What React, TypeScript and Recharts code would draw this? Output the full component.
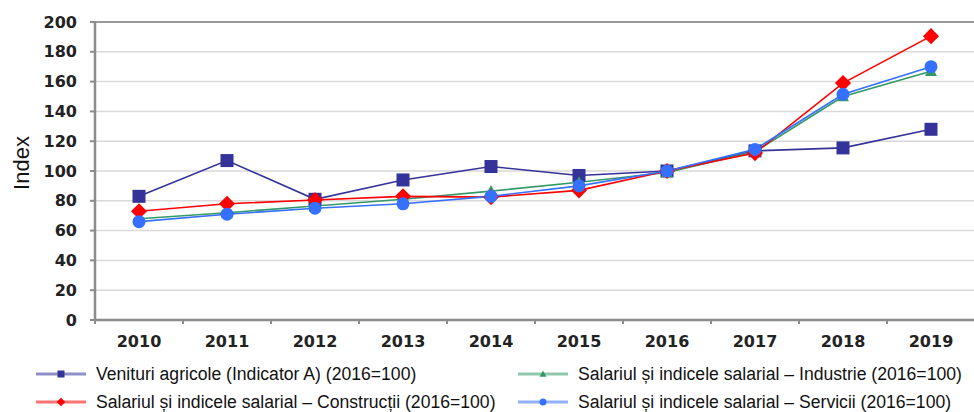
import React from 'react'
import { LineChart, Line, XAxis, YAxis, CartesianGrid, ReferenceLine } from 'recharts'

const years = ['2010', '2011', '2012', '2013', '2014', '2015', '2016', '2017', '2018', '2019']
const venituri = [83, 107, 81, 94, 103, 97, 100, 113.5, 115.5, 128]
const industrie = [68, 72, 76.5, 81, 86.5, 92.5, 99, 113, 150, 167]
const constructii = [73, 78, 80.5, 83, 82.5, 87, 100, 112, 159, 190.5]
const servicii = [66, 71, 75, 78, 83, 90, 100, 114.5, 151.5, 170]
const yTicks = [0, 20, 40, 60, 80, 100, 120, 140, 160, 180, 200]

const labels = {
  venituri: 'Venituri agricole (Indicator A) (2016=100)',
  industrie: 'Salariul și indicele salarial – Industrie (2016=100)',
  constructii: 'Salariul și indicele salarial – Construcții (2016=100)',
  servicii: 'Salariul și indicele salarial – Servicii (2016=100)',
}

const COLORS = {
  venituri: '#333399',
  industrie: '#339966',
  constructii: '#ff0000',
  servicii: '#3670ff',
}

const data = years.map((year, i) => ({
  year,
  venituri: venituri[i],
  industrie: industrie[i],
  constructii: constructii[i],
  servicii: servicii[i],
}))

// plot box
const PLOT_LEFT = 95
const PLOT_TOP = 22
const PLOT_BOTTOM = 320
const CHART_W = 980
const CHART_H = 412
const BAND = (CHART_W - 5 - PLOT_LEFT) / years.length

const TICK_FONT = 'DejaVu Sans, Verdana, sans-serif'
const LEGEND_FONT = 'Liberation Sans, Arial, sans-serif'

type Shape = 'square' | 'triangle' | 'diamond' | 'circle'

function marker(shape: Shape, cx: number, cy: number, s: number, fill: string, key?: string) {
  if (shape === 'square') {
    return <rect key={key} x={cx - s / 2} y={cy - s / 2} width={s} height={s} fill={fill} />
  }
  if (shape === 'diamond') {
    const r = s * 0.62
    return <polygon key={key} points={`${cx},${cy - r} ${cx + r},${cy} ${cx},${cy + r} ${cx - r},${cy}`} fill={fill} />
  }
  if (shape === 'triangle') {
    const r = s / 2
    return <polygon key={key} points={`${cx},${cy - r} ${cx + r},${cy + r * 0.8} ${cx - r},${cy + r * 0.8}`} fill={fill} />
  }
  return <circle key={key} cx={cx} cy={cy} r={s / 2} fill={fill} />
}

const makeDot = (shape: Shape, fill: string, size: number) => (props: any) => {
  const { cx, cy, index } = props
  if (cx == null || cy == null) return <g key={`d-${index}`} />
  return marker(shape, cx, cy, size, fill, `${shape}-${index}`)
}

const XTick = (props: any) => {
  const { x, payload } = props
  return (
    <g>
      <line x1={x - BAND / 2} x2={x - BAND / 2} y1={PLOT_BOTTOM} y2={PLOT_BOTTOM + 4} stroke="#8c8c8c" strokeWidth={2} />
      <text x={x} y={PLOT_BOTTOM + 27} textAnchor="middle" fontFamily={TICK_FONT} fontSize={16} fontWeight="bold" fill="#222">
        {payload.value}
      </text>
    </g>
  )
}

const legendItems: { key: keyof typeof labels; shape: Shape; left: number; top: number }[] = [
  { key: 'venituri', shape: 'square', left: 35, top: 374 },
  { key: 'industrie', shape: 'triangle', left: 517, top: 374 },
  { key: 'constructii', shape: 'diamond', left: 35, top: 402 },
  { key: 'servicii', shape: 'circle', left: 517, top: 402 },
]

export default function App() {
  return (
    <div style={{ position: 'absolute', left: 0, top: 0, width: 974, height: 412, overflow: 'hidden', background: '#fff' }}>
      <LineChart
        width={CHART_W}
        height={CHART_H}
        data={data}
        margin={{ top: PLOT_TOP, right: 5, left: 35, bottom: 0 }}
      >
        <CartesianGrid horizontal vertical={false} stroke="#d9d9d9" strokeWidth={1.5} />
        <ReferenceLine y={200} stroke="#9a9a9a" strokeWidth={2} />
        <XAxis
          dataKey="year"
          scale="band"
          tickLine={false}
          axisLine={{ stroke: '#8c8c8c', strokeWidth: 2.5 }}
          tick={<XTick />}
          interval={0}
          height={CHART_H - PLOT_BOTTOM}
        />
        <YAxis
          width={60}
          domain={[0, 200]}
          ticks={yTicks}
          interval={0}
          tickSize={5}
          tickMargin={13}
          tickLine={{ stroke: '#8c8c8c', strokeWidth: 2 }}
          axisLine={{ stroke: '#8c8c8c', strokeWidth: 2.5 }}
          tick={{ fontFamily: TICK_FONT, fontSize: 16, fontWeight: 'bold', fill: '#222' }}
          label={{
            content: () => (
              <text
                x={21}
                y={163}
                transform="rotate(-90 21 163)"
                textAnchor="middle"
                dominantBaseline="central"
                fontFamily={LEGEND_FONT}
                fontSize={22}
                fill="#111"
              >
                Index
              </text>
            ),
          }}
        />
        <Line type="linear" dataKey="venituri" stroke={COLORS.venituri} strokeWidth={1.6} dot={makeDot('square', COLORS.venituri, 13)} activeDot={false} isAnimationActive={false} />
        <Line type="linear" dataKey="industrie" stroke={COLORS.industrie} strokeWidth={1.6} dot={makeDot('triangle', COLORS.industrie, 12)} activeDot={false} isAnimationActive={false} />
        <Line type="linear" dataKey="constructii" stroke={COLORS.constructii} strokeWidth={1.6} dot={makeDot('diamond', COLORS.constructii, 13)} activeDot={false} isAnimationActive={false} />
        <Line type="linear" dataKey="servicii" stroke={COLORS.servicii} strokeWidth={1.6} dot={makeDot('circle', COLORS.servicii, 13)} activeDot={false} isAnimationActive={false} />
      </LineChart>

      {/* Leyenda */}
      {legendItems.map((item) => (
        <div
          key={item.key}
          style={{ position: 'absolute', left: item.left, top: item.top - 11, height: 22, display: 'flex', alignItems: 'center' }}
        >
          <svg width={52} height={12} style={{ display: 'block' }}>
            <line x1={1} x2={51} y1={6} y2={6} stroke={COLORS[item.key]} strokeOpacity={0.55} strokeWidth={3} />
            {marker(item.shape, 26, 6, 7, COLORS[item.key])}
          </svg>
          <span style={{ marginLeft: 9, fontFamily: LEGEND_FONT, fontSize: 17.6, color: '#111', whiteSpace: 'nowrap' }}>
            {labels[item.key]}
          </span>
        </div>
      ))}
    </div>
  )
}
